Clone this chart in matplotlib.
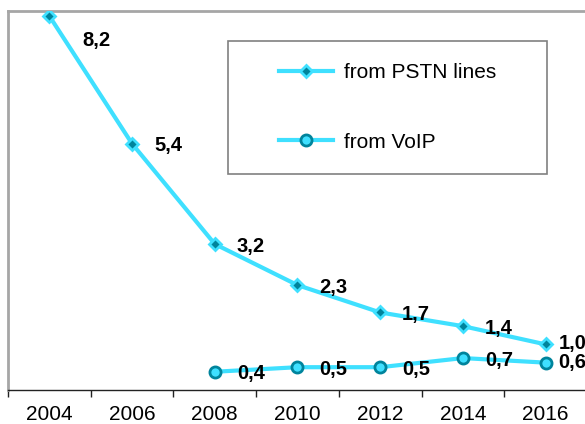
import matplotlib
matplotlib.use("Agg")
import matplotlib.pyplot as plt
from matplotlib.patches import Rectangle

plt.rcParams['font.family'] = ['Liberation Sans', 'DejaVu Sans']

# data
years = ['2004', '2006', '2008', '2010', '2012', '2014', '2016']
pstn = [8.2, 5.4, 3.2, 2.3, 1.7, 1.4, 1.0]
voip_years = ['2008', '2010', '2012', '2014', '2016']
voip = [0.4, 0.5, 0.5, 0.7, 0.6]

line_col = '#3FE0FF'
dark_col = '#00849C'

fig = plt.figure(figsize=(5.85, 4.24), dpi=100)
ax = fig.add_axes([8 / 585, 34 / 424, 579 / 585, 379 / 424])

x_all = list(range(len(years)))
x_voip = [years.index(y) for y in voip_years]

ax.plot(x_all, pstn, color=line_col, lw=3, marker='D', markersize=6,
        markerfacecolor=dark_col, markeredgecolor=line_col, markeredgewidth=2,
        label='from PSTN lines', zorder=3)
ax.plot(x_voip, voip, color=line_col, lw=3, marker='o', markersize=8,
        markerfacecolor=line_col, markeredgecolor=dark_col, markeredgewidth=2,
        label='from VoIP', zorder=3)

def fmt(v):
    return ('%.1f' % v).replace('.', ',')

# data labels, to the right of each point
for i, (xi, v) in enumerate(zip(x_all, pstn)):
    if i == 0:
        off = (33, -24)
    elif i == len(pstn) - 1:
        off = (13, 1)
    else:
        off = (22, -2)
    ax.annotate(fmt(v), (xi, v), xytext=off, textcoords='offset pixels',
                ha='left', va='center', fontsize=14.5, fontweight='bold',
                annotation_clip=False)
for i, (xi, v) in enumerate(zip(x_voip, voip)):
    off = (13, 0) if i == len(voip) - 1 else (22, -2)
    ax.annotate(fmt(v), (xi, v), xytext=off, textcoords='offset pixels',
                ha='left', va='center', fontsize=14.5, fontweight='bold',
                annotation_clip=False)

ax.set_xlim(-0.5, len(years) - 0.5)
ax.set_ylim(0, 8.31)
ax.set_yticks([])
ax.set_xticks(x_all)
ax.set_xticklabels(years, fontsize=15)
ax.set_xticks([i - 0.5 for i in range(len(years) + 1)], minor=True)
ax.tick_params(axis='x', which='major', length=0, pad=11)
ax.tick_params(axis='x', which='minor', length=5, width=1, color='#222222')

for s in ['top', 'left', 'right']:
    ax.spines[s].set_color('#A6A6A6')
    ax.spines[s].set_linewidth(2)
ax.spines['bottom'].set_color('#222222')
ax.spines['bottom'].set_linewidth(1)

# legend with its own box
fig.patches.append(Rectangle((228 / 585, 1 - 174 / 424), (547 - 228) / 585, (174 - 41) / 424,
                             transform=fig.transFigure, facecolor='white',
                             edgecolor='#808080', lw=1.2, zorder=5))
leg = fig.legend(loc='center', bbox_to_anchor=(387.5 / 585, 1 - 107.5 / 424),
                 frameon=False, fontsize=15, handlelength=2.6, handletextpad=0.5,
                 labelspacing=2.4)
leg.set_zorder(6)

fig.savefig('out.png', dpi=100)
